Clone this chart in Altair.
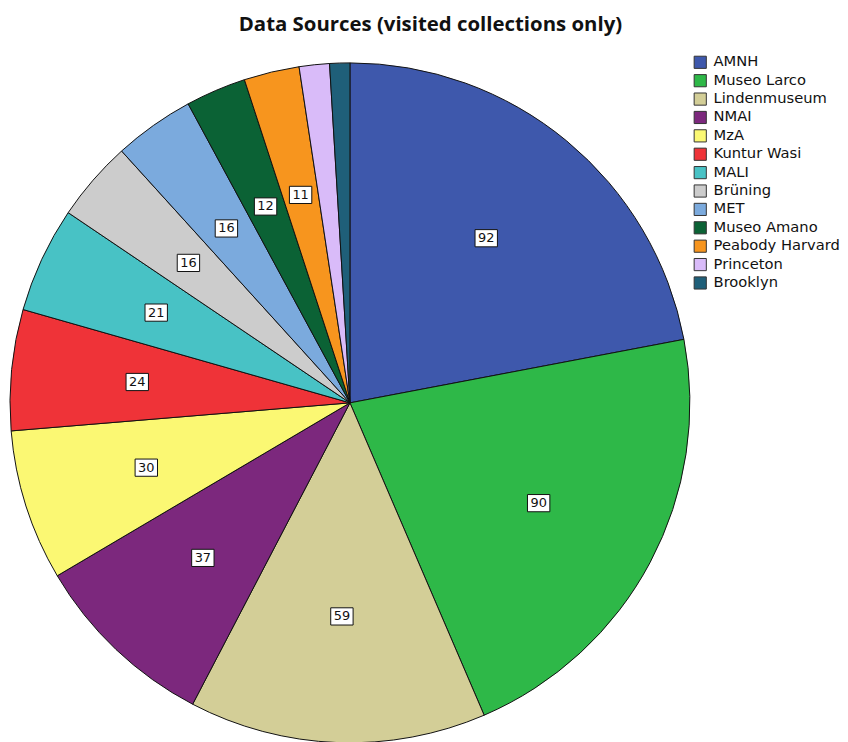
import altair as alt
import pandas as pd

categories = ["AMNH", "Museo Larco", "Lindenmuseum", "NMAI", "MzA", "Kuntur Wasi",
              "MALI", "Brüning", "MET", "Museo Amano", "Peabody Harvard", "Princeton", "Brooklyn"]
values = [92, 90, 59, 37, 30, 24, 21, 16, 16, 12, 11, 6, 4]
labels = ["92", "90", "59", "37", "30", "24", "21", "16", "16", "12", "11", "", ""]
colors = ["#3E58AC", "#2EB848", "#D3CE97", "#7C287D", "#FBF873", "#EF3338",
          "#48C2C5", "#CCCCCC", "#7BAADD", "#0B6235", "#F7951E", "#D9BBF9", "#1F5F79"]

df = pd.DataFrame({"cat": categories, "value": values, "label": labels,
                   "idx": list(range(len(categories)))})

CX, CY, R, LR = 343, 395, 342, 215

base = alt.Chart(df)

pie = base.mark_arc(radius=R, stroke="#111111", strokeWidth=1).encode(
    theta=alt.Theta("value:Q", stack=True),
    order=alt.Order("idx:Q"),
    color=alt.Color("cat:N", scale=alt.Scale(domain=categories, range=colors),
                    legend=alt.Legend(title=None, orient="none", legendX=688, legendY=45,
                                      symbolType="square", symbolSize=150,
                                      symbolStrokeColor="#333333", symbolStrokeWidth=1,
                                      labelFont="DejaVu Sans", labelFontSize=14.8,
                                      labelColor="#111111", rowPadding=1.5,
                                      labelOffset=6, labelLimit=200)),
    x=alt.value(CX), y=alt.value(CY),
)

lab = base.transform_window(
    cum="sum(value)", sort=[alt.SortField("idx")], frame=[None, 0]
).transform_joinaggregate(total="sum(value)").transform_calculate(
    mid="(datum.cum - datum.value/2)/datum.total*2*PI"
).transform_calculate(
    px=f"{CX} + {LR}*sin(datum.mid)", py=f"{CY} - {LR}*cos(datum.mid)"
).transform_filter("datum.label != ''")

boxes = lab.mark_point(shape="M-1.3,-1H1.3V1H-1.3Z", size=300, filled=True,
                       fill="white", stroke="#111111", strokeWidth=1, opacity=1).encode(
    x=alt.X("px:Q", scale=None), y=alt.Y("py:Q", scale=None))

texts = lab.mark_text(font="DejaVu Sans", fontSize=13, color="#111111").encode(
    x=alt.X("px:Q", scale=None), y=alt.Y("py:Q", scale=None), text="label:N")

title = alt.Chart(pd.DataFrame({"t": ["Data Sources (visited collections only)"]})).mark_text(
    font="Open Sans", fontSize=20.5, fontWeight="bold", color="#111111"
).encode(x=alt.value(424), y=alt.value(15), text="t:N")

chart = alt.layer(pie, boxes, texts, title).properties(
    width=832, height=726, padding=0, background="white"
).configure_view(strokeWidth=0, stroke=None)

chart.save("out.html", embed_options={"renderer": "svg", "actions": False})
